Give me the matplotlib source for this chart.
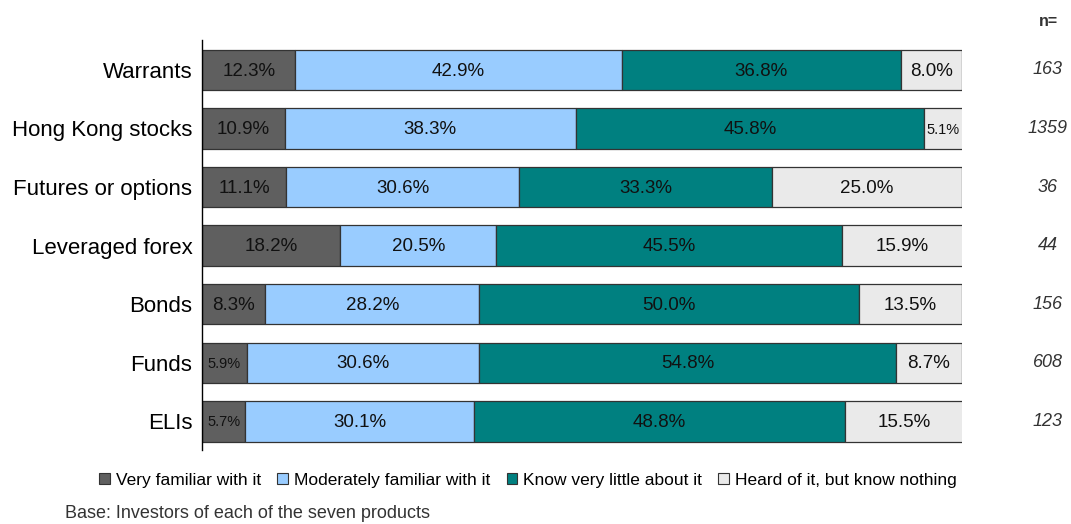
import matplotlib.pyplot as plt
from matplotlib.patches import Patch

plt.rcParams['font.family'] = ['Liberation Sans', 'DejaVu Sans']

products = ["Warrants", "Hong Kong stocks", "Futures or options", "Leveraged forex",
            "Bonds", "Funds", "ELIs"]
very_familiar = [12.3, 10.9, 11.1, 18.2, 8.3, 5.9, 5.7]
moderately_familiar = [42.9, 38.3, 30.6, 20.5, 28.2, 30.6, 30.1]
know_little = [36.8, 45.8, 33.3, 45.5, 50.0, 54.8, 48.8]
heard_only = [8.0, 5.1, 25.0, 15.9, 13.5, 8.7, 15.5]
sample_sizes = ["163", "1359", "36", "44", "156", "608", "123"]

series = [
    ("Very familiar with it", very_familiar, "#5f5f5f"),
    ("Moderately familiar with it", moderately_familiar, "#99ccff"),
    ("Know very little about it", know_little, "#008080"),
    ("Heard of it, but know nothing", heard_only, "#eaeaea"),
]

fig = plt.figure(figsize=(10.71, 5.24), dpi=100)
ax = fig.add_axes([0.1886, 0.1412, 0.7096, 0.7825])

ypos = list(range(len(products)))
left = [0.0] * len(products)
for name, vals, color in series:
    ax.barh(ypos, vals, left=left, height=0.69, color=color,
            edgecolor="#333333", linewidth=0.9, label=name)
    for i, v in enumerate(vals):
        size = 10.5 if v < 7 else 13.5
        ax.text(left[i] + v / 2, i + 0.02, f"{v:.1f}%", ha="center", va="center",
                fontsize=size, color="#111111")
    left = [l + v for l, v in zip(left, vals)]

ax.set_xlim(0, 100)
ax.set_ylim(len(products) - 0.51, -0.51)
ax.set_yticks(ypos)
ax.set_yticklabels(products, fontsize=16)
ax.tick_params(axis="y", length=0, pad=7)
ax.set_xticks([])
for s in ("top", "right", "bottom"):
    ax.spines[s].set_visible(False)
ax.spines["left"].set_color("#000000")
ax.spines["left"].set_linewidth(1.0)

# sample sizes column
for i, n in enumerate(sample_sizes):
    ax.text(1.113, i, n, transform=ax.get_yaxis_transform(), ha="center",
            va="center", fontsize=13, style="italic", color="#333333")
fig.text(1048 / 1071, 1 - 22 / 524, "n=", ha="center", va="center",
         fontsize=11.5, fontweight="bold", color="#333333")

handles = [Patch(facecolor=c, edgecolor="#333333", linewidth=0.8, label=n)
           for n, _, c in series]
fig.legend(handles=handles, loc="center", bbox_to_anchor=(528 / 1071, 1 - 480 / 524),
           ncol=4, frameon=False, fontsize=12.5, handlelength=0.6, handleheight=0.6,
           handletextpad=0.35, columnspacing=0.95)

fig.text(65 / 1071, 1 - 513 / 524, "Base: Investors of each of the seven products",
         ha="left", va="center", fontsize=13, color="#333333")

fig.savefig("out.png", dpi=100)
